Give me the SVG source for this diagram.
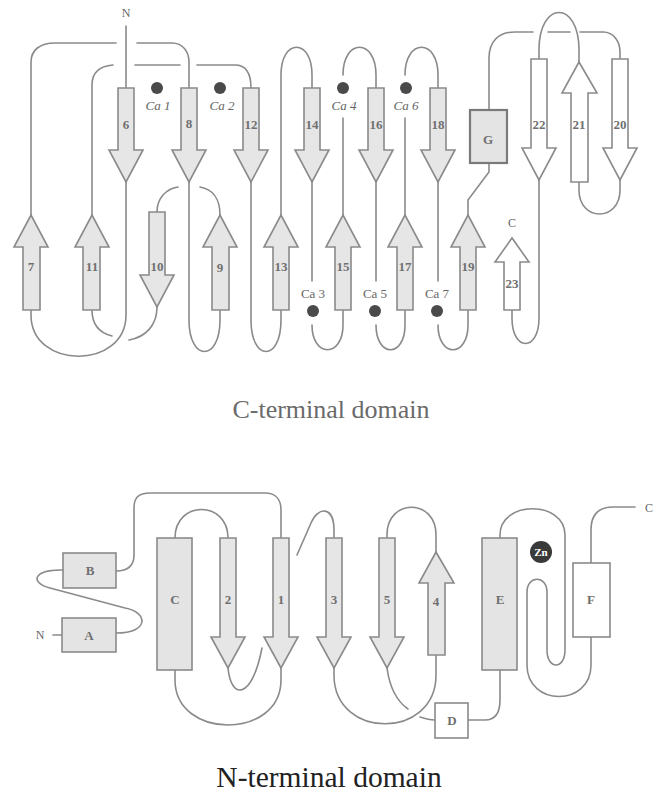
<svg xmlns="http://www.w3.org/2000/svg" width="660" height="804" viewBox="0 0 660 804">
<style>
.bg{fill:#ffffff}
.ln{fill:none;stroke:#8a8a8a;stroke-width:1.6;stroke-linecap:round}
.ar{fill:#e6e6e6;stroke:#8a8a8a;stroke-width:1.6;stroke-linejoin:miter}
.aw{fill:#ffffff;stroke:#8a8a8a;stroke-width:1.6}
.bx{fill:#e4e4e4;stroke:#8a8a8a;stroke-width:1.6}
.bw{fill:#ffffff;stroke:#8a8a8a;stroke-width:1.6}
.lb{font-family:"Liberation Serif",serif;font-size:13px;font-weight:bold;fill:#707070;text-anchor:middle}
.ca{font-family:"Liberation Serif",serif;font-size:13px;fill:#666;text-anchor:middle}
.cai{font-style:italic}
.dot{fill:#4a4a4a}
.term{font-family:"Liberation Serif",serif;font-size:12px;fill:#666;text-anchor:middle}
</style>
<rect class="bg" x="0" y="0" width="660" height="804"/>

<g id="connectors-c">
<path class="ln" d="M126,26 V88"/>
<path class="ln" d="M126,182 V315 C126,370 31,370 31,315 V310"/>
<path class="ln" d="M31,215 V62 C31,50 40,43 55,43 H116 M137,43 H172 C183,43 189,52 189,62 V88"/>
<path class="ln" d="M189,182 V320 C189,362 220,362 220,320 V310"/>
<path class="ln" d="M220,215 C220,198 212,189 200,187 M178,187 C166,189 157,198 157,212"/>
<path class="ln" d="M92,310 C92,326 100,333 112,336 M129,340 C146,337 157,325 157,307"/>
<path class="ln" d="M92,215 V85 C92,72 100,66 113,65 M135,65 H180 M197,65 H235 C246,65 251,74 251,88"/>
<path class="ln" d="M251,182 V320 C251,362 281,362 281,320 V310"/>
<path class="ln" d="M281,215 V75 C281,38 312,38 312,75 V88"/>
<path class="ln" d="M312,182 V281 M312,325 C312,358 343,358 343,325 V310"/>
<path class="ln" d="M343,215 V118 M343,75 C343,38 376,38 376,75 V88"/>
<path class="ln" d="M376,182 V281 M376,325 C376,358 405,358 405,325 V310"/>
<path class="ln" d="M405,215 V118 M405,75 C405,38 438,38 438,75 V88"/>
<path class="ln" d="M438,182 V281 M438,325 C438,358 468,358 468,325 V310"/>
<path class="ln" d="M468,215 V200 L489,172 V163"/>
<path class="ln" d="M489,110 V58 C489,42 498,32 515,32 H533 M548,32 H570 M580,32 H603 C614,32 620,42 620,52 V59"/>
<path class="ln" d="M620,180 V190 C620,222 579,222 579,190 V182"/>
<path class="ln" d="M579,62 V50 C579,0 539,0 539,50 V59"/>
<path class="ln" d="M539,180 V318 C539,352 512,352 512,318 V310"/>
</g>

<g id="n-term-c"><text class="term" x="126" y="17">N</text></g>
<g id="c-term-c"><text class="term" x="512" y="227">C</text></g>

<g id="s6"><polygon class="ar" points="118,88 134,88 134,150 143,150 126,182 109,150 118,150"/><text class="lb" x="126" y="129">6</text></g>
<g id="s8"><polygon class="ar" points="181,88 197,88 197,150 206,150 189,182 172,150 181,150"/><text class="lb" x="189" y="128">8</text></g>
<g id="s12"><polygon class="ar" points="243,88 259,88 259,150 268,150 251,182 234,150 243,150"/><text class="lb" x="251" y="129">12</text></g>
<g id="s14"><polygon class="ar" points="304,88 320,88 320,150 329,150 312,182 295,150 304,150"/><text class="lb" x="312" y="129">14</text></g>
<g id="s16"><polygon class="ar" points="368,88 384,88 384,150 393,150 376,182 359,150 368,150"/><text class="lb" x="376" y="129">16</text></g>
<g id="s18"><polygon class="ar" points="430,88 446,88 446,150 455,150 438,182 421,150 430,150"/><text class="lb" x="438" y="129">18</text></g>

<g id="s7"><polygon class="ar" points="23,310 40,310 40,247 48,247 31,215 14,247 23,247"/><text class="lb" x="31" y="271">7</text></g>
<g id="s11"><polygon class="ar" points="83,310 100,310 100,247 109,247 92,215 75,247 83,247"/><text class="lb" x="92" y="271">11</text></g>
<g id="s10"><polygon class="ar" points="149,212 165,212 165,275 174,275 157,307 140,275 149,275"/><text class="lb" x="157" y="271">10</text></g>
<g id="s9"><polygon class="ar" points="212,310 229,310 229,247 237,247 220,215 203,247 212,247"/><text class="lb" x="220" y="272">9</text></g>
<g id="s13"><polygon class="ar" points="273,310 289,310 289,247 298,247 281,215 264,247 273,247"/><text class="lb" x="281" y="271">13</text></g>
<g id="s15"><polygon class="ar" points="335,310 351,310 351,247 360,247 343,215 326,247 335,247"/><text class="lb" x="343" y="271">15</text></g>
<g id="s17"><polygon class="ar" points="397,310 413,310 413,247 422,247 405,215 388,247 397,247"/><text class="lb" x="405" y="271">17</text></g>
<g id="s19"><polygon class="ar" points="460,310 476,310 476,247 485,247 468,215 451,247 460,247"/><text class="lb" x="468" y="271">19</text></g>

<g id="hG"><rect x="470" y="110" width="37" height="53" fill="#e4e4e4" stroke="#7a7a7a" stroke-width="2.2"/><text class="lb" x="488" y="144">G</text></g>
<g id="s20"><polygon class="aw" points="612,59 628,59 628,148 637,148 620,180 603,148 612,148"/><text class="lb" x="620" y="129">20</text></g>
<g id="s22"><polygon class="aw" points="531,59 547,59 547,148 556,148 539,180 522,148 531,148"/><text class="lb" x="539" y="129">22</text></g>
<g id="s21"><polygon class="aw" points="571,182 588,182 588,93 597,93 579,62 562,93 571,93"/><text class="lb" x="579" y="129">21</text></g>
<g id="s23"><polygon class="aw" points="504,310 520,310 520,262 529,262 512,238 495,262 504,262"/><text class="lb" x="512" y="288">23</text></g>

<g id="ca1"><circle class="dot" cx="157" cy="88" r="6"/><text class="ca cai" x="158" y="110">Ca 1</text></g>
<g id="ca2"><circle class="dot" cx="220" cy="88" r="6"/><text class="ca cai" x="222" y="110">Ca 2</text></g>
<g id="ca4"><circle class="dot" cx="343" cy="88" r="6"/><text class="ca cai" x="344" y="110">Ca 4</text></g>
<g id="ca6"><circle class="dot" cx="406" cy="88" r="6"/><text class="ca cai" x="406" y="110">Ca 6</text></g>
<g id="ca3"><circle class="dot" cx="313" cy="311" r="6"/><text class="ca" x="313" y="298">Ca 3</text></g>
<g id="ca5"><circle class="dot" cx="375" cy="311" r="6"/><text class="ca" x="375" y="298">Ca 5</text></g>
<g id="ca7"><circle class="dot" cx="437" cy="311" r="6"/><text class="ca" x="437" y="298">Ca 7</text></g>

<g id="caption-c"><text x="331" y="418" font-family="'Liberation Serif',serif" font-size="26" fill="#6a6a6a" text-anchor="middle">C-terminal domain</text></g>

<g id="connectors-n">
<path class="ln" d="M53,635 H62"/>
<path class="ln" d="M116,633 C150,633 148,612 125,608 L50,588 C28,582 35,569 63,570"/>
<path class="ln" d="M116,571 C128,571 134,566 134,555 V508 C134,498 138,493 150,493 H265 C276,493 281,500 281,510 V538"/>
<path class="ln" d="M281,668 V680 C281,740 175,740 175,680 V670"/>
<path class="ln" d="M175,538 C175,500 228,500 228,538"/>
<path class="ln" d="M228,668 C231,700 252,700 262,648 M297,555 L311,523 C318,506 334,506 334,530 V538"/>
<path class="ln" d="M334,668 V675 C334,740 436,740 436,675 V655"/>
<path class="ln" d="M436,552 V535 C436,498 387,498 387,535 V538"/>
<path class="ln" d="M387,668 C390,690 398,702 408,709 M420,717 C426,719 430,720 435,720"/>
<path class="ln" d="M468,720 H485 C496,720 500,712 500,700 V670"/>
<path class="ln" d="M500,538 V535 C500,500 565,500 565,535 V650 C565,670 547,670 547,650 V592 C547,575 527,575 527,592 V665 C527,707 591,707 591,665 V637"/>
<path class="ln" d="M591,563 V530 C591,515 598,507 613,507 H635"/>
</g>

<g id="nN"><text class="term" x="40" y="639">N</text></g>
<g id="nC"><text class="term" x="649" y="512">C</text></g>
<g id="hA"><rect class="bx" x="62" y="618" width="54" height="34"/><text class="lb" x="89" y="640">A</text></g>
<g id="hB"><rect class="bx" x="63" y="553" width="53" height="35"/><text class="lb" x="90" y="575">B</text></g>
<g id="hC"><rect class="bx" x="157" y="538" width="35" height="132"/><text class="lb" x="175" y="604">C</text></g>
<g id="n2"><polygon class="ar" points="220,538 236,538 236,637 245,637 228,668 211,637 220,637"/><text class="lb" x="228" y="604">2</text></g>
<g id="n1"><polygon class="ar" points="273,538 289,538 289,637 298,637 281,668 264,637 273,637"/><text class="lb" x="281" y="604">1</text></g>
<g id="n3"><polygon class="ar" points="326,538 342,538 342,637 351,637 334,668 317,637 326,637"/><text class="lb" x="334" y="604">3</text></g>
<g id="n5"><polygon class="ar" points="379,538 395,538 395,637 404,637 387,668 370,637 379,637"/><text class="lb" x="387" y="604">5</text></g>
<g id="n4"><polygon class="ar" points="428,655 445,655 445,583 454,583 436,552 419,583 428,583"/><text class="lb" x="436" y="606">4</text></g>
<g id="hD"><rect class="bw" x="435" y="703" width="33" height="35"/><text class="lb" x="452" y="725">D</text></g>
<g id="hE"><rect class="bx" x="482" y="538" width="35" height="132"/><text class="lb" x="500" y="604">E</text></g>
<g id="hF"><rect class="bw" x="573" y="563" width="37" height="74"/><text class="lb" x="591" y="604">F</text></g>
<g id="zn"><circle cx="541" cy="552" r="11" fill="#3a3a3a"/><text x="541" y="556" font-family="'Liberation Serif',serif" font-size="11" font-weight="bold" fill="#ffffff" text-anchor="middle">Zn</text></g>

<g id="caption-n"><text x="329" y="787" font-family="'Liberation Serif',serif" font-size="29.5" fill="#222" text-anchor="middle">N-terminal domain</text></g>
</svg>
